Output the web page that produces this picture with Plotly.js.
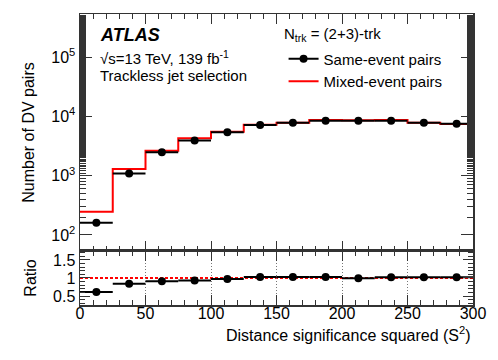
<!DOCTYPE html>
<html>
<head>
<meta charset="utf-8">
<script src="https://cdn.plot.ly/plotly-3.0.1.min.js"></script>
<style>
  body { margin: 0; background: #fff; }
  #chart { width: 498px; height: 360px; }
</style>
</head>
<body>
<div id="chart"></div>
<script>
// bin edges in S^2, 12 bins of width 25
const binEdges = [0, 25, 50, 75, 100, 125, 150, 175, 200, 225, 250, 275, 300];
const binCenters = [12.5, 37.5, 62.5, 87.5, 112.5, 137.5, 162.5, 187.5, 212.5, 237.5, 262.5, 287.5];
const binHalfWidth = [12.5, 12.5, 12.5, 12.5, 12.5, 12.5, 12.5, 12.5, 12.5, 12.5, 12.5, 12.5];

const sameEvent = [161, 1090, 2470, 3900, 5370, 7160, 7830, 8450, 8450, 8450, 7830, 7530];
const mixedEvent = [247, 1300, 2640, 4260, 5520, 7240, 7800, 8680, 8600, 8700, 7800, 7450];
const ratio = [0.61, 0.84, 0.91, 0.93, 0.97, 1.03, 1.03, 1.03, 0.99, 1.02, 1.02, 1.02];

const FONT = "Liberation Sans, Arial, Helvetica, sans-serif";
const axisCol = "#333";

// step line needs the last value repeated to close the final bin
const mixedStepY = mixedEvent.concat([mixedEvent[mixedEvent.length - 1]]);

const data = [
  {
    x: binEdges,
    y: mixedStepY,
    type: "scatter",
    mode: "lines",
    line: { shape: "hv", color: "#ff0000", width: 2 },
    name: "Mixed-event pairs",
    showlegend: false,
    xaxis: "x",
    yaxis: "y",
  },
  {
    x: binCenters,
    y: sameEvent,
    type: "scatter",
    mode: "markers",
    marker: { color: "#000", size: 8 },
    error_x: { type: "data", array: binHalfWidth, width: 0, thickness: 2, color: "#000" },
    showlegend: false,
    xaxis: "x",
    yaxis: "y",
  },
  // legend-only entries (ROOT-style line + marker sample)
  {
    x: [null],
    y: [null],
    type: "scatter",
    mode: "lines+markers",
    marker: { color: "#000", size: 8 },
    line: { color: "#000", width: 2 },
    name: "Same-event pairs",
    xaxis: "x",
    yaxis: "y",
  },
  {
    x: [null],
    y: [null],
    type: "scatter",
    mode: "lines",
    line: { color: "#ff0000", width: 2 },
    name: "Mixed-event pairs",
    xaxis: "x",
    yaxis: "y",
  },
  {
    x: binCenters,
    y: ratio,
    type: "scatter",
    mode: "markers",
    marker: { color: "#000", size: 8 },
    error_x: { type: "data", array: binHalfWidth, width: 0, thickness: 2, color: "#000" },
    showlegend: false,
    xaxis: "x2",
    yaxis: "y2",
  },
];

const layout = {
  width: 498,
  height: 360,
  margin: { l: 80, r: 25, t: 14, b: 55 },
  paper_bgcolor: "#fff",
  plot_bgcolor: "#fff",
  font: { family: FONT, size: 15, color: "#000" },
  showlegend: true,
  legend: {
    x: 0.518,
    y: 0.902,
    xanchor: "left",
    yanchor: "top",
    bgcolor: "rgba(0,0,0,0)",
    font: { family: FONT, size: 15 },
    traceorder: "normal",
    itemwidth: 30,
    tracegroupgap: 0,
  },
  xaxis: {
    domain: [0, 1],
    anchor: "y",
    range: [0, 300],
    showticklabels: false,
    ticks: "inside",
    ticklen: 10,
    tickcolor: axisCol,
    dtick: 50,
    minor: { ticks: "inside", ticklen: 5, dtick: 10, tickcolor: axisCol },
    showline: true,
    linecolor: axisCol,
    linewidth: 1.5,
    mirror: "ticks",
    showgrid: false,
    zeroline: false,
  },
  yaxis: {
    domain: [0.1856, 1],
    anchor: "x",
    type: "log",
    range: [1.73, 5.725],
    tickvals: [100, 1000, 10000, 100000],
    ticktext: ["10<sup>2</sup>", "10<sup>3</sup>", "10<sup>4</sup>", "10<sup>5</sup>"],
    ticks: "inside",
    ticklen: 12,
    tickcolor: axisCol,
    minor: { ticks: "inside", ticklen: 6, tickcolor: axisCol },
    tickfont: { size: 16 },
    showline: true,
    linecolor: axisCol,
    linewidth: 1.5,
    mirror: "ticks",
    showgrid: false,
    zeroline: false,
    title: { text: "Number of DV pairs", font: { size: 16 }, standoff: 12 },
  },
  xaxis2: {
    domain: [0, 1],
    anchor: "y2",
    matches: "x",
    range: [0, 300],
    dtick: 50,
    ticks: "inside",
    ticklen: 10,
    tickcolor: axisCol,
    minor: { ticks: "inside", ticklen: 5, dtick: 10, tickcolor: axisCol },
    tickfont: { size: 16 },
    ticklabelstandoff: -7,
    showline: true,
    linecolor: axisCol,
    linewidth: 1.5,
    mirror: "ticks",
    showgrid: true,
    gridcolor: "#777",
    griddash: "1px,2px",
    gridwidth: 1,
    zeroline: false,
  },
  yaxis2: {
    domain: [0, 0.1856],
    anchor: "x2",
    range: [0.25, 1.75],
    tickvals: [0.5, 1, 1.5],
    ticktext: ["0.5", "1", "1.5"],
    ticks: "inside",
    ticklen: 10,
    tickcolor: axisCol,
    minor: { ticks: "inside", ticklen: 5, dtick: 0.1, tickcolor: axisCol },
    tickfont: { size: 16 },
    showline: true,
    linecolor: axisCol,
    linewidth: 1.5,
    mirror: "ticks",
    showgrid: false,
    zeroline: false,
    title: { text: "Ratio", font: { size: 16 }, standoff: 12 },
  },
  shapes: [
    {
      type: "line",
      xref: "x2",
      yref: "y2",
      x0: 0,
      x1: 300,
      y0: 1,
      y1: 1,
      line: { color: "#ff0000", width: 2, dash: "3px,2px" },
      layer: "below",
    },
  ],
  annotations: [
    {
      text: "<b><i>ATLAS</i></b>",
      xref: "paper", yref: "paper",
      x: 0.046, y: 0.928,
      xanchor: "left", yanchor: "middle",
      showarrow: false,
      font: { size: 18 },
    },
    {
      text: "\u221As=13 TeV, 139 fb<sup>-1</sup>",
      xref: "paper", yref: "paper",
      x: 0.046, y: 0.852,
      xanchor: "left", yanchor: "middle",
      showarrow: false,
      font: { size: 15 },
    },
    {
      text: "Trackless jet selection",
      xref: "paper", yref: "paper",
      x: 0.046, y: 0.787,
      xanchor: "left", yanchor: "middle",
      showarrow: false,
      font: { size: 15 },
    },
    {
      text: "N<sub>trk</sub> = (2+3)-trk",
      xref: "paper", yref: "paper",
      x: 0.515, y: 0.931,
      xanchor: "left", yanchor: "middle",
      showarrow: false,
      font: { size: 15 },
    },
    {
      text: "Distance significance squared (S<sup>2</sup>)",
      xref: "paper", yref: "paper",
      x: 1.0, y: -0.06,
      xanchor: "right", yanchor: "top",
      showarrow: false,
      font: { size: 16 },
    },
  ],
};

Plotly.newPlot("chart", data, layout, { displayModeBar: false, staticPlot: true });
</script>
</body>
</html>
